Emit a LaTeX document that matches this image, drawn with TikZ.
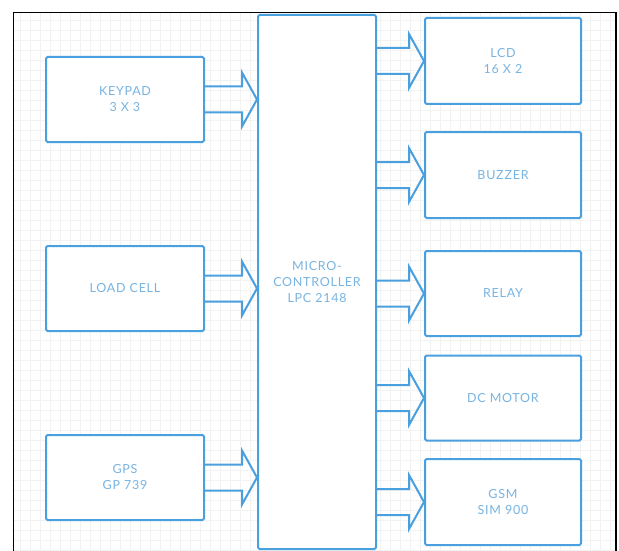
\documentclass[tikz,border=0pt]{standalone}
\usepackage{fontspec}
\setmainfont{Lato}[LetterSpace=6]
\usetikzlibrary{calc}
\definecolor{boxblue}{HTML}{4A9FDF}
\definecolor{txtblue}{HTML}{78B4E2}
\definecolor{gridgray}{HTML}{F2F2F2}
\tikzset{
  block/.style={draw=boxblue,line width=2pt,fill=white,rounded corners=1.5pt,
    align=center,text=txtblue,inner sep=0pt,
    font=\fontsize{12.5}{16}\selectfont},
  dev/.style={block,minimum width=156pt,minimum height=85pt},
  busline/.style={draw=boxblue,line width=2pt,line join=miter}
}
% flecha ancha hueca: #1 origen, #2 destino, #3 nodo que fija la altura
\newcommand{\busarrow}[3]{%
  \draw[busline] ($(#1.east |- #3)+(0,-13)$) -- ($(#2.west |- #3)+(-15,-13)$)
    -- ($(#2.west |- #3)+(-15,-27)$) -- (#2.west |- #3)
    -- ($(#2.west |- #3)+(-15,27)$) -- ($(#2.west |- #3)+(-15,13)$)
    -- ($(#1.east |- #3)+(0,13)$);}
\begin{document}
\begin{tikzpicture}[x=1pt,y=-1pt]
  \useasboundingbox[fill=white] (0,0) rectangle (619,551);
  % fondo cuadriculado y marco
  \draw[gridgray,line width=0.5pt] (14,12) grid[step=10pt] (616,551);
  \draw[black,line width=1.6pt] (13.5,551) -- (13.5,12.5) -- (616,12.5) -- (616,551);
  % bloques de entrada
  \node[dev,minimum width=158pt] (keypad) at (125,99.5) {KEYPAD\\3 X 3};
  \node[dev,minimum width=158pt] (loadcell) at (125,288.5) {LOAD CELL};
  \node[dev,minimum width=158pt] (gps) at (125,477.5) {GPS\\GP 739};
  % microcontrolador
  \node[block,minimum width=118pt,minimum height=534pt] (mcu) at (317,282)
    {MICRO-\\CONTROLLER\\LPC 2148};
  % bloques de salida
  \node[dev,minimum height=86pt] (lcd) at (503,61) {LCD\\16 X 2};
  \node[dev,minimum height=86pt] (buzzer) at (503,175) {BUZZER};
  \node[dev] (relay) at (503,293.5) {RELAY};
  \node[dev] (motor) at (503,398) {DC MOTOR};
  \node[dev,minimum height=86pt] (gsm) at (503,502) {GSM\\SIM 900};
  % buses
  \busarrow{keypad}{mcu}{keypad}
  \busarrow{loadcell}{mcu}{loadcell}
  \busarrow{gps}{mcu}{gps}
  \busarrow{mcu}{lcd}{lcd}
  \busarrow{mcu}{buzzer}{buzzer}
  \busarrow{mcu}{relay}{relay}
  \busarrow{mcu}{motor}{motor}
  \busarrow{mcu}{gsm}{gsm}
\end{tikzpicture}
\end{document}
